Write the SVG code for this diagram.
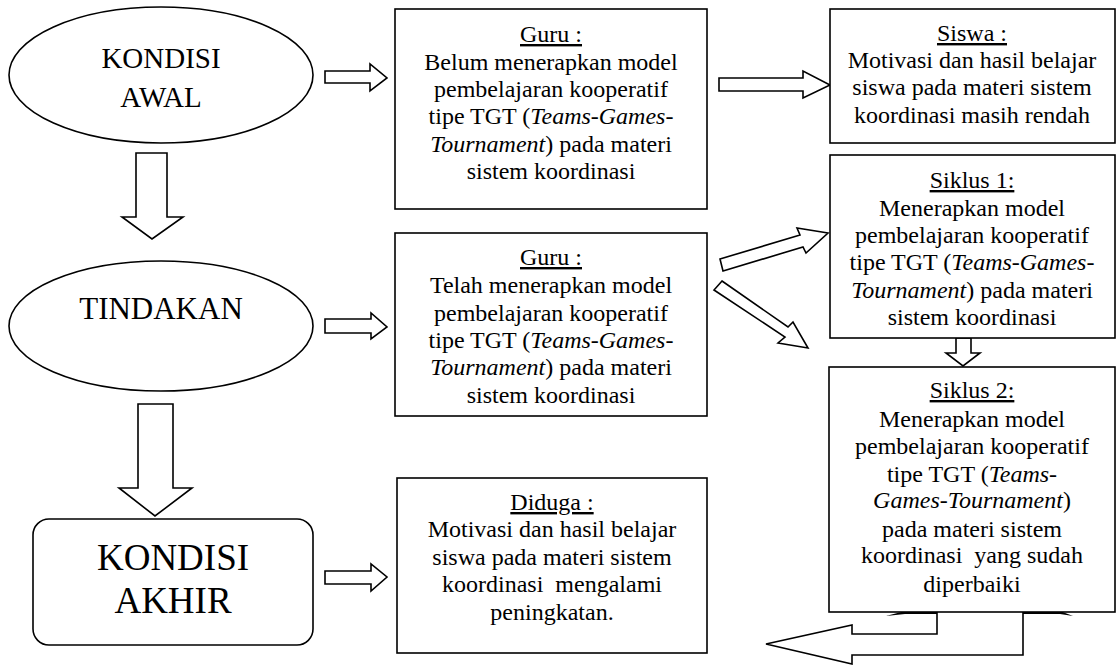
<svg xmlns="http://www.w3.org/2000/svg" width="1116" height="665" viewBox="0 0 1116 665">
<style>
.shape{fill:#fff;stroke:#000;stroke-width:1.6}
.arr{fill:#fff;stroke:#000;stroke-width:1.6;stroke-linejoin:miter}
text{font-family:'Liberation Serif','Times New Roman',serif;fill:#000;text-anchor:middle}
.t{font-size:24px;white-space:pre}
.h{text-decoration:underline}
.i{font-style:italic}
</style>
<rect width="1116" height="665" fill="#fff"/>
<g id="connectors">
  <polygon class="arr" points="136,153 167,153 167,217 183,217 152,239 122,217 136,217"/>
  <polygon class="arr" points="138,404 173,404 173,488 192,488 155,516 119,488 138,488"/>
  <polygon class="arr" points="325,71 370,71 370,64 387,78 370,91 370,83 325,83"/>
  <polygon class="arr" points="325,319 371,319 371,313 387,327 371,339 371,333 325,333"/>
  <polygon class="arr" points="325,571 371,571 371,564 387,577 371,591 371,584 325,584"/>
  <polygon class="arr" points="719,78 803,78 803,71 830,85 803,98 803,91 719,91"/>
  <polygon class="arr" points="720,259 800,235 797,228 828,233 806,253 803,247 723,271"/>
  <polygon class="arr" points="722,281 788,327 793,322 808,348 778,343 785,337 714,290"/>
  <polygon class="arr" points="956,338 971,338 971,353 980,353 963,366 946,353 956,353"/>
  <polygon class="arr" points="766,644 852,625 852,634 937,634 937,611 1023,611 1023,655 852,655 852,664"/>
  <polygon fill="#000" points="886,616 905,611 937,611 937,614 905,614"/>
  <polygon fill="#000" points="1023,611 1060,611 1073,616 1060,614 1023,614"/>
</g>
<g id="kondisi-awal">
  <ellipse class="shape" cx="161" cy="75" rx="152" ry="68"/>
  <text x="161" y="68" font-size="29">KONDISI</text>
  <text x="161" y="107" font-size="29">AWAL</text>
</g>
<g id="tindakan">
  <ellipse class="shape" cx="161" cy="326" rx="152" ry="65"/>
  <text x="161" y="319" font-size="31">TINDAKAN</text>
</g>
<g id="kondisi-akhir">
  <rect class="shape" x="33" y="519" width="280" height="126" rx="16"/>
  <text x="173" y="570" font-size="37">KONDISI</text>
  <text x="173" y="613" font-size="37">AKHIR</text>
</g>
<g id="guru-awal">
  <rect class="shape" x="395" y="9" width="312" height="200"/>
  <text class="t h" x="551" y="42">Guru :</text>
  <text class="t" x="551" y="70">Belum menerapkan model</text>
  <text class="t" x="551" y="97">pembelajaran kooperatif</text>
  <text class="t" x="551" y="124">tipe TGT (<tspan class="i">Teams-Games-</tspan></text>
  <text class="t" x="551" y="152"><tspan class="i">Tournament</tspan>) pada materi</text>
  <text class="t" x="551" y="179">sistem koordinasi</text>
</g>
<g id="siswa">
  <rect class="shape" x="830" y="9" width="285" height="134"/>
  <text class="t h" x="972" y="41">Siswa :</text>
  <text class="t" x="972" y="68">Motivasi dan hasil belajar</text>
  <text class="t" x="972" y="95">siswa pada materi sistem</text>
  <text class="t" x="972" y="123">koordinasi masih rendah</text>
</g>
<g id="guru-tindakan">
  <rect class="shape" x="395" y="233" width="312" height="183"/>
  <text class="t h" x="551" y="265">Guru :</text>
  <text class="t" x="551" y="293">Telah menerapkan model</text>
  <text class="t" x="551" y="321">pembelajaran kooperatif</text>
  <text class="t" x="551" y="348">tipe TGT (<tspan class="i">Teams-Games-</tspan></text>
  <text class="t" x="551" y="375"><tspan class="i">Tournament</tspan>) pada materi</text>
  <text class="t" x="551" y="403">sistem koordinasi</text>
</g>
<g id="siklus-1">
  <rect class="shape" x="830" y="155" width="285" height="183"/>
  <text class="t h" x="972" y="188">Siklus 1:</text>
  <text class="t" x="972" y="216">Menerapkan model</text>
  <text class="t" x="972" y="243">pembelajaran kooperatif</text>
  <text class="t" x="972" y="270">tipe TGT (<tspan class="i">Teams-Games-</tspan></text>
  <text class="t" x="972" y="298"><tspan class="i">Tournament</tspan>) pada materi</text>
  <text class="t" x="972" y="325">sistem koordinasi</text>
</g>
<g id="siklus-2">
  <rect class="shape" x="829" y="367" width="286" height="245"/>
  <text class="t h" x="972" y="398">Siklus 2:</text>
  <text class="t" x="972" y="427">Menerapkan model</text>
  <text class="t" x="972" y="454">pembelajaran kooperatif</text>
  <text class="t" x="972" y="482">tipe TGT (<tspan class="i">Teams-</tspan></text>
  <text class="t" x="972" y="508"><tspan class="i">Games-Tournament</tspan>)</text>
  <text class="t" x="972" y="537">pada materi sistem</text>
  <text class="t" x="972" y="563" xml:space="preserve">koordinasi  yang sudah</text>
  <text class="t" x="972" y="592">diperbaiki</text>
</g>
<g id="diduga">
  <rect class="shape" x="397" y="478" width="310" height="175"/>
  <text class="t h" x="552" y="510">Diduga :</text>
  <text class="t" x="552" y="537">Motivasi dan hasil belajar</text>
  <text class="t" x="552" y="565">siswa pada materi sistem</text>
  <text class="t" x="552" y="592" xml:space="preserve">koordinasi  mengalami</text>
  <text class="t" x="552" y="620">peningkatan.</text>
</g>
</svg>
